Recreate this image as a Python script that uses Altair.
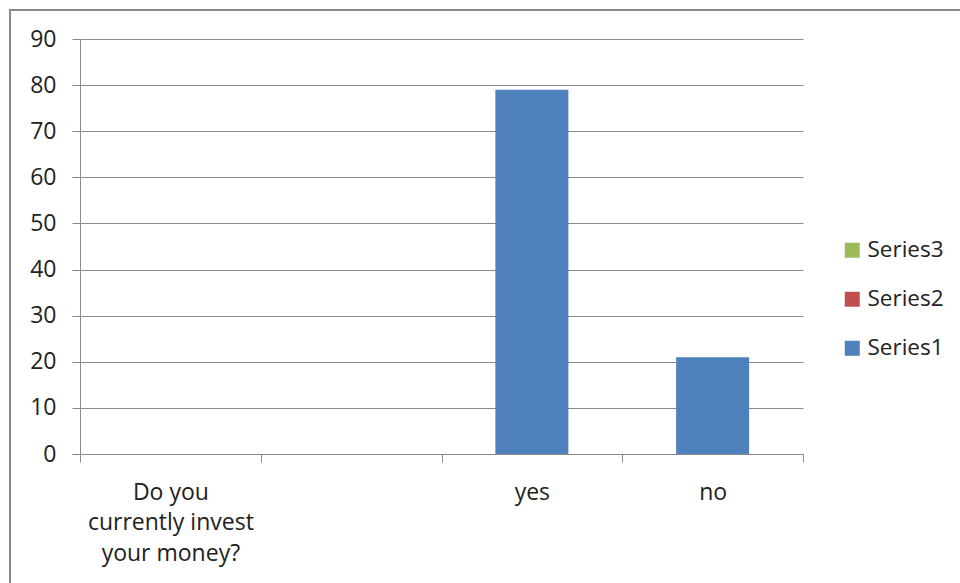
import altair as alt
import pandas as pd

categories = ["Do you\ncurrently invest\nyour money?", " ", "yes", "no"]
series_names = ["Series3", "Series2", "Series1"]
series_colors = ["#9BBB59", "#C0504D", "#4F81BD"]
series1 = [None, None, 79, 21]
series2 = [None, None, None, None]
series3 = [None, None, None, None]

rows = []
for name, vals in [("Series1", series1), ("Series2", series2), ("Series3", series3)]:
    for c, v in zip(categories, vals):
        if v is not None:
            rows.append({"category": c, "series": name, "value": v})
df = pd.DataFrame(rows)

FONT = "Open Sans"
GRAY = "#8a8a8a"
W, H = 723, 415
PL, PT, PR, PB = 80, 39, 157, 129

bars = alt.Chart(df).mark_bar(size=73).encode(
    x=alt.X("category:N", sort=categories,
            scale=alt.Scale(domain=categories, paddingInner=0, paddingOuter=0),
            axis=alt.Axis(title=None, labelAngle=0, tickBand="extent", tickSize=8,
                          tickColor=GRAY, domainColor=GRAY, labelFont=FONT,
                          labelFontSize=23, labelColor="#222222", labelPadding=19,
                          labelLineHeight=30.5, labelBaseline="top",
                          labelExpr="isString(datum.value) ? split(datum.value, '\\n') : ''",
                          grid=False)),
    y=alt.Y("value:Q", scale=alt.Scale(domain=[0, 90], nice=False),
            axis=alt.Axis(title=None, values=list(range(0, 100, 10)), tickSize=8,
                          tickColor=GRAY, domainColor=GRAY, gridColor=GRAY,
                          labelFont=FONT, labelFontSize=23, labelColor="#222222",
                          labelPadding=16)),
    color=alt.Color("series:N",
                    scale=alt.Scale(domain=series_names, range=series_colors),
                    legend=alt.Legend(title=None, orient="none", legendX=761, legendY=200,
                                      symbolType="square", symbolSize=225,
                                      symbolStrokeWidth=0, labelFont=FONT,
                                      labelFontSize=22.5, labelColor="#222222",
                                      labelOffset=4, rowPadding=26, padding=0,
                                      labelLimit=300)),
)

border = alt.Chart(alt.Data(values=[{}])).mark_rect(
    fill=None, stroke="#8a8a8a", strokeWidth=2
).encode(
    x=alt.value(10 - PL), y=alt.value(10 - PT),
    x2=alt.value(W + PR + 20), y2=alt.value(H + PB + 20),
)

chart = alt.layer(border, bars).properties(
    width=W, height=H,
    autosize=alt.AutoSizeParams(type="none"),
    padding={"left": PL, "top": PT, "right": PR, "bottom": PB},
    background="white",
).configure_view(stroke=None)

chart.save("out.html", embed_options={"renderer": "svg", "actions": False})
